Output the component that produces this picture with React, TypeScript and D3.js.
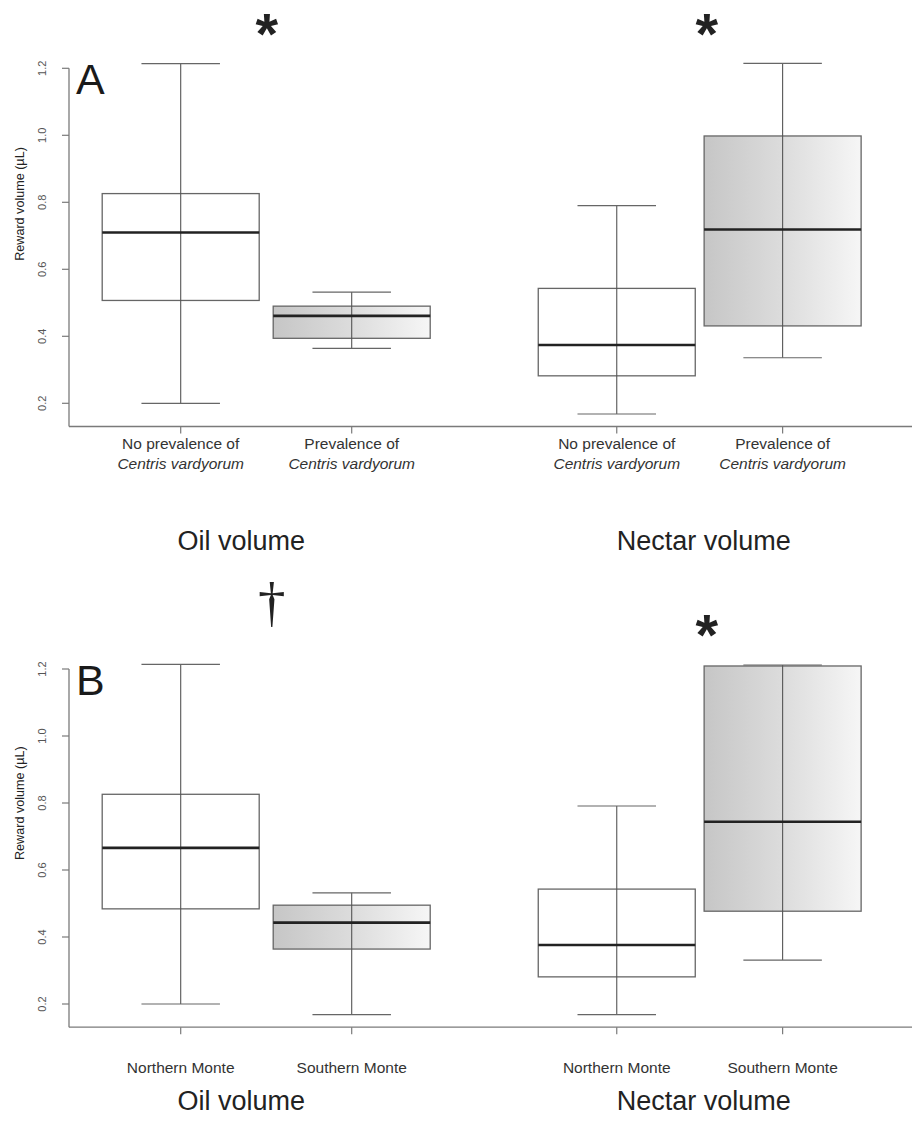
import React from "react";
import * as d3 from "d3";

// ---------- data ----------
const panelLetters = ["A", "B"];
const groupTitles = ["Oil volume", "Nectar volume"];
const boxPositions = [1, 2, 3.55, 4.52];
const shaded = [false, true, false, true];
const yTicks = [0.2, 0.4, 0.6, 0.8, 1.0, 1.2];

const catLine1A = ["No prevalence of", "Prevalence of", "No prevalence of", "Prevalence of"];
const catLine2A = ["Centris vardyorum", "Centris vardyorum", "Centris vardyorum", "Centris vardyorum"];
const catB = ["Northern Monte", "Southern Monte", "Northern Monte", "Southern Monte"];

const signifA = ["*", "*"];
const signifB = ["\u2020", "*"];

// panel A box statistics
const lowA = [0.2, 0.364, 0.168, 0.336];
const q1A = [0.507, 0.394, 0.282, 0.431];
const medA = [0.71, 0.461, 0.374, 0.719];
const q3A = [0.826, 0.49, 0.543, 0.998];
const highA = [1.214, 0.532, 0.79, 1.215];

// panel B box statistics
const lowB = [0.2, 0.168, 0.168, 0.331];
const q1B = [0.484, 0.364, 0.281, 0.477];
const medB = [0.666, 0.443, 0.376, 0.744];
const q3B = [0.826, 0.495, 0.543, 1.209];
const highB = [1.214, 0.532, 0.791, 1.212];

const FONT = "'Liberation Sans', Arial, Helvetica, sans-serif";

const x = d3.scaleLinear().domain([1, 2]).range([180.7, 351.7]);
const y = d3.scaleLinear().domain([0.2, 1.2]).range([403.3, 68.3]);
const BOX_W = 157;
const AXIS_Y = 426.5;
const AXIS_X = 69;

type PanelProps = {
  offset: number;
  letter: string;
  low: number[];
  q1: number[];
  med: number[];
  q3: number[];
  high: number[];
  signif: string[];
  isA: boolean;
};

function Panel({ offset, letter, low, q1, med, q3, high, signif, isA }: PanelProps) {
  const groupCenters = [
    (x(boxPositions[0]) + x(boxPositions[1])) / 2,
    (x(boxPositions[2]) + x(boxPositions[3])) / 2,
  ];
  return (
    <g transform={`translate(0,${offset})`}>
      {/* y axis */}
      <line x1={AXIS_X} x2={AXIS_X} y1={y(1.2)} y2={AXIS_Y} stroke="#7a7a7a" strokeWidth={1.3} />
      {yTicks.map((t) => (
        <g key={t}>
          <line x1={AXIS_X - 7} x2={AXIS_X} y1={y(t)} y2={y(t)} stroke="#7a7a7a" strokeWidth={1.2} />
          <text
            transform={`translate(45.5,${y(t)}) rotate(-90)`}
            textAnchor="middle"
            fontFamily={FONT}
            fontSize={11}
            fill="#555"
          >
            {d3.format(".1f")(t)}
          </text>
        </g>
      ))}
      <text
        transform={`translate(23.5,${isA ? 204 : 202.5}) rotate(-90)`}
        textAnchor="middle"
        fontFamily={FONT}
        fontSize={12.6}
        fill="#222"
      >
        Reward volume (µL)
      </text>
      {/* x axis */}
      <line x1={AXIS_X} x2={912} y1={AXIS_Y} y2={AXIS_Y} stroke="#7a7a7a" strokeWidth={1.3} />
      {boxPositions.map((p, i) => (
        <line key={i} x1={x(p)} x2={x(p)} y1={AXIS_Y} y2={AXIS_Y + 7} stroke="#7a7a7a" strokeWidth={1.2} />
      ))}
      {/* boxes */}
      {boxPositions.map((p, i) => {
        const cx = x(p);
        return (
          <g key={i}>
            <rect
              x={cx - BOX_W / 2}
              y={y(q3[i])}
              width={BOX_W}
              height={y(q1[i]) - y(q3[i])}
              fill={shaded[i] ? "url(#boxGrad)" : "#fff"}
              stroke="#666"
              strokeWidth={1.3}
            />
            <line x1={cx} x2={cx} y1={y(high[i])} y2={y(low[i])} stroke="#555" strokeWidth={1.1} />
            <line x1={cx - BOX_W / 4} x2={cx + BOX_W / 4} y1={y(high[i])} y2={y(high[i])} stroke="#666" strokeWidth={1.2} />
            <line x1={cx - BOX_W / 4} x2={cx + BOX_W / 4} y1={y(low[i])} y2={y(low[i])} stroke="#666" strokeWidth={1.2} />
            <line x1={cx - BOX_W / 2} x2={cx + BOX_W / 2} y1={y(med[i])} y2={y(med[i])} stroke="#222" strokeWidth={2.6} />
          </g>
        );
      })}
      {/* category labels */}
      {boxPositions.map((p, i) =>
        isA ? (
          <g key={i}>
            <text x={x(p)} y={449} textAnchor="middle" fontFamily={FONT} fontSize={15.5} fill="#333">
              {catLine1A[i]}
            </text>
            <text x={x(p)} y={468.5} textAnchor="middle" fontFamily={FONT} fontSize={15.5} fontStyle="italic" fill="#333">
              {catLine2A[i]}
            </text>
          </g>
        ) : (
          <text key={i} x={x(p)} y={472} textAnchor="middle" fontFamily={FONT} fontSize={15.5} fill="#333">
            {catB[i]}
          </text>
        )
      )}
      {/* group titles */}
      {groupTitles.map((t, i) => (
        <text key={t} x={groupCenters[i] + (i === 0 ? -25 : 4)} y={isA ? 550 : 509} textAnchor="middle" fontFamily={FONT} fontSize={27} fill="#222">
          {t}
        </text>
      ))}
      {/* significance marks */}
      {signif.map((s, i) =>
        s === "*" ? (
          <text key={i} x={groupCenters[i] + (i === 0 ? 0.5 : 7)} y={54} textAnchor="middle" fontFamily={FONT} fontWeight="bold" fontSize={58} fill="#222">
            {s}
          </text>
        ) : (
          <text key={i} x={groupCenters[i] + 5.5} y={20.5} textAnchor="middle" fontFamily="'Liberation Serif', 'DejaVu Serif', serif" fontSize={55} fill="#222">
            {s}
          </text>
        )
      )}
      {/* panel letter */}
      <text x={76} y={94} fontFamily={FONT} fontSize={43} fill="#1a1a1a">
        {letter}
      </text>
    </g>
  );
}

export default function App() {
  return (
    <svg
      width={916}
      height={1122}
      viewBox="0 0 916 1122"
      style={{ position: "absolute", left: 0, top: 0, background: "#fff" }}
    >
      <defs>
        <linearGradient id="boxGrad" x1="0" x2="1" y1="0" y2="0">
          <stop offset="0%" stopColor="#c6c6c6" />
          <stop offset="50%" stopColor="#dcdcdc" />
          <stop offset="100%" stopColor="#f6f6f6" />
        </linearGradient>
      </defs>
      <rect width={916} height={1122} fill="#fff" />
      <Panel offset={0} letter={panelLetters[0]} low={lowA} q1={q1A} med={medA} q3={q3A} high={highA} signif={signifA} isA={true} />
      <Panel offset={600.7} letter={panelLetters[1]} low={lowB} q1={q1B} med={medB} q3={q3B} high={highB} signif={signifB} isA={false} />
    </svg>
  );
}
